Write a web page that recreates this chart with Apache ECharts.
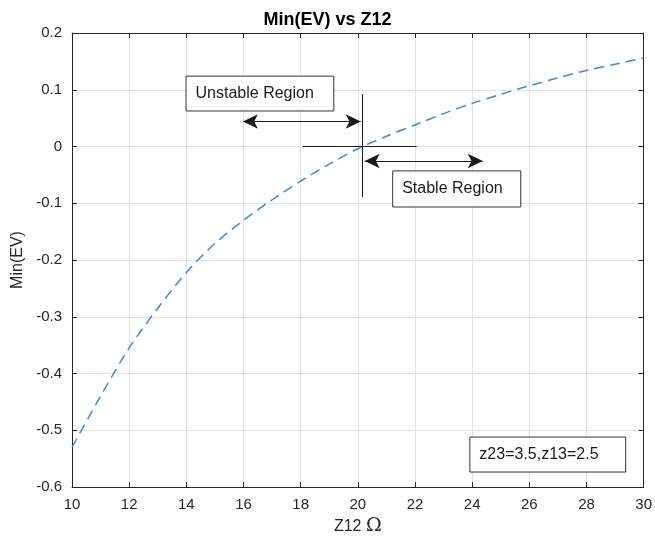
<!DOCTYPE html>
<html>
<head>
<meta charset="utf-8">
<script src="https://cdn.jsdelivr.net/npm/echarts@6/dist/echarts.min.js"></script>
<style>
  html, body { margin: 0; padding: 0; background: #fff; }
  #chart { width: 655px; height: 545px; }
</style>
</head>
<body>
<div id="chart"></div>
<script>
// curve
const z12 = [10, 11, 12, 13, 14, 15, 16, 17, 18, 19, 20, 21, 22, 23, 24, 25, 26, 27, 28, 29, 30]
const minEV = [-0.53, -0.44, -0.355, -0.285, -0.222, -0.171, -0.13, -0.094, -0.061, -0.031, -0.004,
  0.018, 0.038, 0.058, 0.076, 0.092, 0.107, 0.121, 0.134, 0.145, 0.156]

const xTicks = { min: 10, max: 30, interval: 2 }
const yTicks = { min: -0.6, max: 0.2, interval: 0.1 }

// annotations, in data units
const crossV = [[20.14, 0.0925], [20.14, -0.089]]
const crossH = [[18.08, 0], [22.06, 0]]
const unstableArrow = [[15.98, 0.044], [20.1, 0.044]]
const stableArrow = [[20.24, -0.0255], [24.37, -0.0255]]
const unstableBox = [[13.99, 0.124], [19.16, 0.0626]]
const stableBox = [[21.22, -0.043], [25.7, -0.1066]]
const noteBox = [[23.92, -0.512], [29.37, -0.5736]]

const axisColor = '#262626'
const font = '"Liberation Sans", Arial, Helvetica, sans-serif'

const chart = echarts.init(document.getElementById('chart'))

function box(coords, text) {
  return [
    { coord: coords[0], name: text },
    { coord: coords[1] }
  ]
}

const tickStyle = { inside: true, length: 5, lineStyle: { color: axisColor } }
const lineStyle = { onZero: false, lineStyle: { color: axisColor, width: 1 } }

chart.setOption({
  animation: false,
  textStyle: { fontFamily: font },
  title: {
    text: 'Min(EV) vs Z12',
    left: 'center',
    top: 6,
    textStyle: { fontSize: 18, fontWeight: 'bold', color: '#000', fontFamily: font }
  },
  grid: { left: 72, right: 11, top: 33, bottom: 58 },
  xAxis: [{
    type: 'value',
    ...xTicks,
    name: 'Z12 {o|Ω}',
    nameLocation: 'middle',
    nameGap: 24,
    nameTextStyle: {
      fontSize: 16, color: axisColor,
      rich: { o: { fontSize: 19, fontFamily: '"DejaVu Serif", serif', color: axisColor } }
    },
    axisLine: lineStyle,
    axisTick: tickStyle,
    axisLabel: { fontSize: 15, color: axisColor, margin: 10 },
    splitLine: { lineStyle: { color: '#e3e3e3' } }
  }, {
    type: 'value',
    ...xTicks,
    position: 'top',
    axisLine: lineStyle,
    axisTick: tickStyle,
    axisLabel: { show: false },
    splitLine: { show: false }
  }],
  yAxis: [{
    type: 'value',
    ...yTicks,
    name: 'Min(EV)',
    nameLocation: 'middle',
    nameGap: 46,
    nameTextStyle: { fontSize: 16, color: axisColor },
    axisLine: { show: true, ...lineStyle },
    axisTick: { show: true, ...tickStyle },
    axisLabel: {
      fontSize: 15, color: axisColor, margin: 10,
      formatter: v => (Math.round(v * 10) / 10).toString()
    },
    splitLine: { lineStyle: { color: '#e3e3e3' } }
  }, {
    type: 'value',
    ...yTicks,
    position: 'right',
    axisLine: { show: true, ...lineStyle },
    axisTick: { show: true, ...tickStyle },
    axisLabel: { show: false },
    splitLine: { show: false }
  }],
  series: [{
    type: 'line',
    data: z12.map((x, i) => [x, minEV[i]]),
    smooth: 0.3,
    showSymbol: false,
    lineStyle: { color: '#3f8bd6', width: 1.5, type: [10, 6] },
    markLine: {
      silent: true,
      label: { show: false },
      symbol: ['none', 'none'],
      lineStyle: { color: '#1a1a1a', width: 1, type: 'solid' },
      data: [
        [{ coord: crossV[0] }, { coord: crossV[1] }],
        [{ coord: crossH[0] }, { coord: crossH[1] }],
        [{ coord: unstableArrow[0], symbol: 'arrow' }, { coord: unstableArrow[1], symbol: 'arrow' }],
        [{ coord: stableArrow[0], symbol: 'arrow' }, { coord: stableArrow[1], symbol: 'arrow' }]
      ],
      symbolSize: [11, 15]
    },
    markArea: {
      silent: true,
      itemStyle: { color: '#fff', borderColor: '#333', borderWidth: 1 },
      label: {
        show: true,
        position: 'insideLeft',
        distance: 10,
        fontSize: 16,
        color: '#1a1a1a',
        fontFamily: font
      },
      data: [
        box(unstableBox, 'Unstable Region'),
        box(stableBox, 'Stable Region'),
        box(noteBox, 'z23=3.5,z13=2.5')
      ]
    }
  }]
})
</script>
</body>
</html>
